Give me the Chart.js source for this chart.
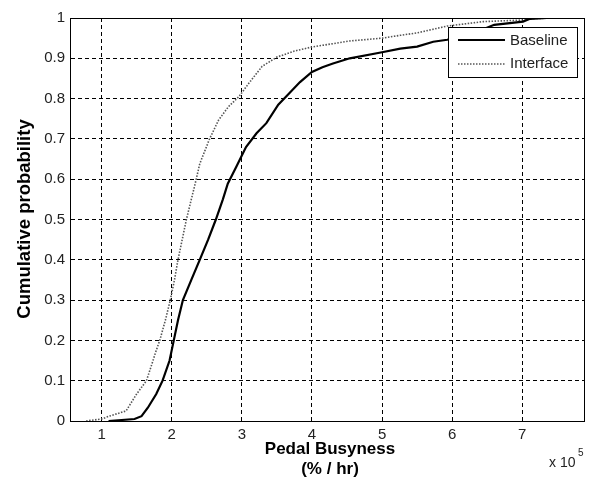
<!DOCTYPE html>
<html>
<head>
<meta charset="utf-8">
<script src="https://cdn.jsdelivr.net/npm/chart.js@4/dist/chart.umd.min.js"></script>
<style>
  html, body { margin: 0; padding: 0; background: #fff; }
  #wrap { width: 593px; height: 477px; }
</style>
</head>
<body>
<div id="wrap"><canvas id="cdf" width="593" height="477"></canvas></div>
<script>
// Empirical CDFs, x in units of 10^5 %/hr
const baselineX = [1.10, 1.47, 1.57, 1.66, 1.78, 1.87, 1.97, 2.03, 2.09, 2.16, 2.28, 2.40, 2.52, 2.63, 2.73, 2.80, 2.92, 3.06, 3.21, 3.35, 3.52, 3.66, 3.83, 4.00, 4.15, 4.30, 4.54, 5.00, 5.26, 5.50, 5.73, 5.93, 6.30, 6.60, 7.01, 7.11, 7.35];
const baselineY = [0, 0.005, 0.012, 0.033, 0.067, 0.10, 0.15, 0.20, 0.25, 0.30, 0.35, 0.40, 0.45, 0.50, 0.55, 0.589, 0.63, 0.68, 0.714, 0.739, 0.785, 0.81, 0.841, 0.866, 0.878, 0.887, 0.90, 0.915, 0.924, 0.929, 0.941, 0.946, 0.962, 0.983, 0.991, 0.998, 1.0];

const interfaceX = [0.78, 1.00, 1.11, 1.35, 1.50, 1.64, 1.71, 1.77, 1.83, 1.91, 1.98, 2.04, 2.09, 2.15, 2.21, 2.28, 2.33, 2.40, 2.54, 2.67, 2.81, 2.96, 3.10, 3.29, 3.50, 3.75, 4.00, 4.54, 5.00, 5.26, 5.50, 5.93, 6.44, 7.01, 7.07, 7.45];
const interfaceY = [0, 0.005, 0.012, 0.025, 0.067, 0.10, 0.137, 0.17, 0.20, 0.25, 0.30, 0.35, 0.40, 0.45, 0.50, 0.55, 0.585, 0.638, 0.70, 0.747, 0.78, 0.805, 0.838, 0.88, 0.903, 0.918, 0.928, 0.943, 0.95, 0.957, 0.963, 0.98, 0.991, 0.995, 0.998, 1.0];

const xTicks = [1, 2, 3, 4, 5, 6, 7];
const yTicks = [0, 0.1, 0.2, 0.3, 0.4, 0.5, 0.6, 0.7, 0.8, 0.9, 1];
const seriesNames = ['Baseline', 'Interface'];

const FONT = '"Liberation Sans", Arial, sans-serif';

function toPoints(xs, ys) {
  return xs.map((x, i) => ({ x: x, y: ys[i] }));
}

// axis box, titles, exponent and legend drawn on top
const decorations = {
  id: 'decorations',
  afterDraw(chart) {
    const { ctx, chartArea: a } = chart;
    ctx.save();
    ctx.strokeStyle = '#000';
    ctx.lineWidth = 1;
    ctx.setLineDash([]);
    ctx.strokeRect(Math.round(a.left) + 0.5, Math.round(a.top) + 0.5,
      Math.round(a.right - a.left), Math.round(a.bottom - a.top));

    ctx.fillStyle = '#000';
    ctx.font = 'bold 17px ' + FONT;
    ctx.textAlign = 'center';
    ctx.textBaseline = 'middle';
    const cx = (a.left + a.right) / 2 + 3;
    ctx.fillText('Pedal Busyness', cx, 449);
    ctx.fillText('(% / hr)', cx, 469);

    ctx.save();
    ctx.font = 'bold 18.5px ' + FONT;
    ctx.translate(25, 219);
    ctx.rotate(-Math.PI / 2);
    ctx.fillText('Cumulative probability', 0, 0);
    ctx.restore();

    ctx.fillStyle = '#222';
    ctx.font = '14px ' + FONT;
    ctx.textAlign = 'left';
    ctx.fillText('x 10', 549, 463);
    ctx.font = '10px ' + FONT;
    ctx.fillText('5', 578, 453);

    // legend
    const lx = 448, ly = 27, lw = 129, lh = 50;
    ctx.fillStyle = '#fff';
    ctx.fillRect(lx, ly, lw, lh);
    ctx.strokeStyle = '#000';
    ctx.strokeRect(lx + 0.5, ly + 0.5, lw, lh);

    ctx.lineWidth = 2;
    ctx.beginPath();
    ctx.moveTo(458, 40);
    ctx.lineTo(505, 40);
    ctx.stroke();

    ctx.lineWidth = 1.5;
    ctx.strokeStyle = '#555';
    ctx.setLineDash([1.5, 1.5]);
    ctx.beginPath();
    ctx.moveTo(458, 64);
    ctx.lineTo(505, 64);
    ctx.stroke();
    ctx.setLineDash([]);

    ctx.fillStyle = '#222';
    ctx.font = '15px ' + FONT;
    ctx.textAlign = 'left';
    ctx.fillText(seriesNames[0], 510, 41);
    ctx.fillText(seriesNames[1], 510, 64);
    ctx.restore();
  }
};

new Chart(document.getElementById('cdf'), {
  type: 'scatter',
  data: {
    datasets: [
      {
        label: seriesNames[0],
        data: toPoints(baselineX, baselineY),
        showLine: true,
        borderColor: '#000',
        borderWidth: 2.2,
        pointRadius: 0,
        tension: 0
      },
      {
        label: seriesNames[1],
        data: toPoints(interfaceX, interfaceY),
        showLine: true,
        borderColor: '#555',
        borderWidth: 1.6,
        borderDash: [1.5, 1.5],
        pointRadius: 0,
        tension: 0
      }
    ]
  },
  options: {
    responsive: false,
    animation: false,
    layout: { padding: { top: 18, right: 9, left: 0, bottom: 0 } },
    plugins: {
      legend: { display: false },
      tooltip: { enabled: false }
    },
    scales: {
      x: {
        type: 'linear',
        min: 0.55,
        max: 7.88,
        afterFit: s => { s.height = 56; },
        afterBuildTicks: s => { s.ticks = xTicks.map(v => ({ value: v })); },
        grid: { color: '#000', lineWidth: 1, drawTicks: false },
        border: { display: true, color: '#000', dash: [4, 3] },
        ticks: {
          padding: 5,
          color: '#222',
          font: { family: FONT, size: 15 },
          maxRotation: 0,
          callback: v => String(v)
        }
      },
      y: {
        type: 'linear',
        min: 0,
        max: 1,
        afterFit: s => { s.width = 70; },
        afterBuildTicks: s => { s.ticks = yTicks.map(v => ({ value: v })); },
        grid: { color: '#000', lineWidth: 1, drawTicks: false },
        border: { display: true, color: '#000', dash: [4, 3] },
        ticks: {
          padding: 5,
          color: '#222',
          font: { family: FONT, size: 15 },
          callback: v => String(Math.round(v * 10) / 10)
        }
      }
    }
  },
  plugins: [decorations]
});
</script>
</body>
</html>
